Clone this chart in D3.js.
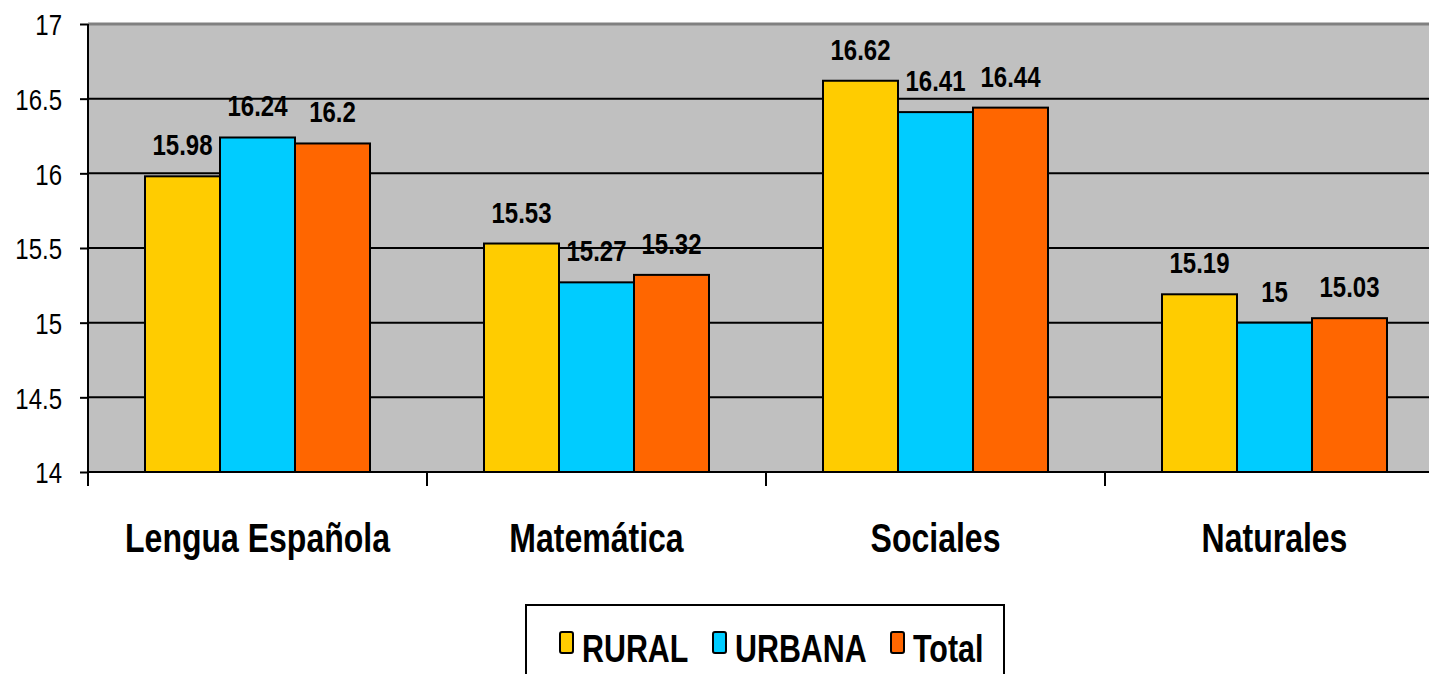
<!DOCTYPE html>
<html>
<head>
<meta charset="utf-8">
<script src="https://cdn.jsdelivr.net/npm/d3@7"></script>
<style>
  body { margin: 0; background: #fff; }
  text { font-family: "Liberation Sans", Arial, sans-serif; fill: #000; }
</style>
</head>
<body>
<div id="chart"></div>
<script>
var width = 1429, height = 674;

// data
var categories = ["Lengua Española", "Matemática", "Sociales", "Naturales"];
var seriesNames = ["RURAL", "URBANA", "Total"];
var rural  = [15.98, 15.53, 16.62, 15.19];
var urbana = [16.24, 15.27, 16.41, 15.00];
var total  = [16.20, 15.32, 16.44, 15.03];
var yTicks = [14, 14.5, 15, 15.5, 16, 16.5, 17];

var colors = ["#FFCC00", "#00CCFF", "#FF6600"];
var squeeze = 0.8;   // text in the picture is narrow

var plotLeft = 88, plotRight = 1444, plotTop = 24, plotBottom = 472;

var svg = d3.select("#chart").append("svg")
    .attr("width", width)
    .attr("height", height);

var x = d3.scaleBand()
    .domain(categories)
    .range([plotLeft, plotRight]);

var xs = d3.scaleBand()
    .domain(seriesNames)
    .range([57, 282]);

var y = d3.scaleLinear()
    .domain([14, 17])
    .range([plotBottom, plotTop]);

var rows = [];
categories.forEach(function(c, i) {
    [rural, urbana, total].forEach(function(arr, j) {
        rows.push({ cat: c, series: seriesNames[j], value: arr[i], color: colors[j] });
    });
});

// helper for squeezed text
function squeezed(sel, px, py) {
    return sel.attr("transform", function(d, i) {
        return "translate(" + px(d, i) + "," + py(d, i) + ") scale(" + squeeze + ",1)";
    });
}

// plot background
svg.append("rect")
    .attr("x", plotLeft)
    .attr("y", plotTop)
    .attr("width", plotRight - plotLeft)
    .attr("height", plotBottom - plotTop)
    .attr("fill", "#C0C0C0");

// gridlines
svg.append("g").selectAll("line")
    .data(yTicks.slice(1))
    .enter().append("line")
    .attr("x1", plotLeft)
    .attr("x2", plotRight)
    .attr("y1", function(d) { return y(d); })
    .attr("y2", function(d) { return y(d); })
    .attr("stroke", function(d) { return d === 17 ? "#808080" : "#000"; })
    .attr("stroke-width", function(d) { return d === 17 ? 3 : 2; });

// bars
svg.append("g").selectAll("rect")
    .data(rows)
    .enter().append("rect")
    .attr("x", function(d) { return x(d.cat) + xs(d.series); })
    .attr("y", function(d) { return y(d.value); })
    .attr("width", xs.bandwidth())
    .attr("height", function(d) { return y(14) - y(d.value); })
    .attr("fill", function(d) { return d.color; })
    .attr("stroke", "#000")
    .attr("stroke-width", 2);

// value labels
squeezed(svg.append("g").selectAll("text")
    .data(rows)
    .enter().append("text")
    .attr("text-anchor", "middle")
    .style("font-size", "30px")
    .style("font-weight", "bold")
    .text(function(d) { return d3.format("")(+d.value.toFixed(2)); }),
    function(d) { return x(d.cat) + xs(d.series) + xs.bandwidth() / 2; },
    function(d) { return y(d.value) - 21; });

// y axis
var yAxis = d3.axisLeft(y)
    .tickValues(yTicks)
    .tickSize(8)
    .tickFormat(d3.format(""));
var gY = svg.append("g")
    .attr("transform", "translate(" + plotLeft + ",0)")
    .call(yAxis);
gY.select(".domain").attr("stroke", "#000").attr("stroke-width", 2)
    .attr("d", "M0," + (plotTop) + "V" + (plotBottom + 14));
gY.selectAll(".tick line").attr("stroke", "#000").attr("stroke-width", 2);
gY.selectAll(".tick text").remove();
squeezed(gY.selectAll(".tick").append("text")
    .attr("text-anchor", "end")
    .attr("dy", "0.36em")
    .style("font-size", "30px")
    .text(function(d) { return d3.format("")(d); }),
    function() { return -26; },
    function() { return 0; });

// x axis
var gX = svg.append("g")
    .attr("transform", "translate(0," + plotBottom + ")");
gX.append("line")
    .attr("x1", plotLeft).attr("x2", plotRight)
    .attr("stroke", "#000").attr("stroke-width", 2);
gX.selectAll(".sep")
    .data(categories)
    .enter().append("line")
    .attr("class", "sep")
    .attr("x1", function(d) { return x(d); })
    .attr("x2", function(d) { return x(d); })
    .attr("y1", 0).attr("y2", 14)
    .attr("stroke", "#000").attr("stroke-width", 2);
squeezed(gX.selectAll(".cat")
    .data(categories)
    .enter().append("text")
    .attr("class", "cat")
    .attr("text-anchor", "middle")
    .style("font-size", "40px")
    .style("font-weight", "bold")
    .text(function(d) { return d; }),
    function(d) { return x(d) + x.bandwidth() / 2; },
    function() { return 80; });

// legend
var legend = svg.append("g");
legend.append("rect")
    .attr("x", 526).attr("y", 605)
    .attr("width", 478).attr("height", 90)
    .attr("fill", "#fff")
    .attr("stroke", "#000")
    .attr("stroke-width", 2);
var legendX = [560, 713, 891];
var items = legend.selectAll(".item")
    .data(seriesNames)
    .enter().append("g")
    .attr("class", "item")
    .attr("transform", function(d, i) { return "translate(" + legendX[i] + ",0)"; });
items.append("rect")
    .attr("x", 0).attr("y", 632)
    .attr("width", 13).attr("height", 21)
    .attr("rx", 2)
    .attr("fill", function(d, i) { return colors[i]; })
    .attr("stroke", "#000")
    .attr("stroke-width", 2);
squeezed(items.append("text")
    .style("font-size", "38px")
    .style("font-weight", "bold")
    .text(function(d) { return d; }),
    function() { return 22; },
    function() { return 662; });
</script>
</body>
</html>
